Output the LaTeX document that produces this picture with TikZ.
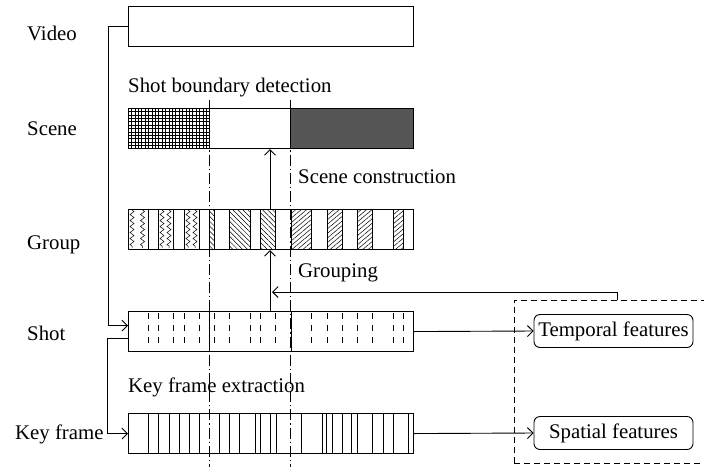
\documentclass[tikz,border=0pt]{standalone}
\usepackage{fontspec}
\setmainfont{Liberation Serif}
\usetikzlibrary{arrows.meta,patterns.meta,decorations.pathmorphing,calc}
\definecolor{darkfill}{HTML}{565656}
\begin{document}
\begin{tikzpicture}[x=1pt,y=-1pt,
  lab/.style={anchor=base west,inner sep=0pt,font=\fontsize{20.8}{24}\selectfont},
  bar/.style={draw,line width=1.1pt,minimum width=285pt,minimum height=40pt,inner sep=0pt,anchor=north west},
  feat/.style={draw,line width=0.9pt,rounded corners=6pt,minimum width=159pt,minimum height=33pt,inner sep=0pt,font=\fontsize{20.8}{24}\selectfont},
  conn/.style={line width=0.9pt},
  arr/.style={conn,-{Straight Barb[length=5.5pt,width=11pt,line width=0.9pt]}},
  dashdot/.style={line width=0.8pt,dash pattern=on 11pt off 3pt on 1.2pt off 3pt},
  fine/.style={line width=0.5pt},
  sep/.style={line width=0.9pt},
  hatchA/.style={pattern={Lines[angle=-45,distance=3.5pt,line width=0.5pt]}},
  hatchB/.style={pattern={Lines[angle=40,distance=3.5pt,line width=0.5pt]}}
]
\useasboundingbox (0,0) rectangle (704,467);

% scene fills
\begin{scope}
  \clip (128,108) rectangle (209,148);
  \foreach \i in {0,...,24} \draw[fine] (128+\i*3.4,108) -- ++(0,40);
  \foreach \i in {0,...,12} \draw[fine] (128,108+\i*3.4) -- ++(81,0);
\end{scope}
\fill[darkfill] (290,108) rectangle (413,148);

% group fills
\foreach \a/\b in {209/214,229/250,260/275}
  \fill[hatchA] (\a,209) rectangle (\b,249);
\foreach \a/\b in {291/311,327/342,357/372,393/403}
  \fill[hatchB] (\a,209) rectangle (\b,249);
\foreach \x in {132,142.5,162,169,188,195}
  \draw[fine,decorate,decoration={zigzag,segment length=6pt,amplitude=2pt}] (\x,210) -- (\x,248);
\foreach \x in {148,158,173,184,199,209,214,229,250,260,275,291,311,327,342,357,372,393,403}
  \draw[sep] (\x,209) -- (\x,249);

% shot marks
\foreach \x in {148,158,173,184,199,214,229,250,260,275,311,327,342,357,372,393,403}
  \draw[line width=1pt,dash pattern=on 6pt off 6pt] (\x,313) -- (\x,344);
\foreach \x in {209,291}
  \draw[sep] (\x,311) -- (\x,352);

% key frame marks
\foreach \x in {148,158,169,179,189,199,219,229,239,255,260,270,276,301,322,326,332,342,351,357,372,383,393,408}
  \draw[sep] (\x,413) -- (\x,453);

% dash-dot boundaries
\draw[dashdot] (209,100) -- (209,467);
\draw[dashdot] (290,100) -- (290,467);

% bars
\node[bar] (video) at (128,6) {};
\node[bar] (scene) at (128,108) {};
\draw[sep] (209,108) -- (209,148);
\draw[sep] (290,108) -- (290,148);
\node[bar] (group) at (128,209) {};
\node[bar] (shot) at (128,311) {};
\node[bar] (keyframe) at (128,413) {};

% labels
\node[lab] (tvideo) at (27,40) {Video};
\node[lab] (tscene) at (27,135) {Scene};
\node[lab] (tgroup) at (27,249) {Group};
\node[lab] (tshot) at (27,340) {Shot};
\node[lab] (tkey) at (15,439) {Key frame};
\node[lab] (tsbd) at (128,92) {Shot boundary detection};
\node[lab] (tsc) at (298,183) {Scene construction};
\node[lab] (tgr) at (298,277) {Grouping};
\node[lab] (tkfe) at (128,392) {Key frame extraction};

% feature box
\node[draw,line width=0.9pt,dash pattern=on 6pt off 4pt,minimum width=200pt,minimum height=163pt,inner sep=0pt,anchor=north west] (fbox) at (514,300) {};
\node[feat] (temporal) at (613.5,331) {Temporal features};
\node[feat] (spatial) at (613.5,433) {Spatial features};

% connectors
\draw[arr] (video.west) -- ++(-20,0) |- ($(shot.west)+(0,-6)$);
\draw[arr] ($(shot.west)+(0,7)$) -- ++(-21,0) |- (keyframe.west);
\draw[arr] (shot.east) -- (temporal.west);
\draw[arr] (keyframe.east) -- (spatial.west);
\coordinate (ax) at (270,0);
\draw[arr] (group.north -| ax) -- (scene.south -| ax);
\draw[arr] (shot.north -| ax) -- (group.south -| ax);
\coordinate (gx) at (617,0);
\coordinate (gtip) at (272,292);
\draw[arr] (fbox.north -| gx) -- ++(0,-8) -- (gtip);
\end{tikzpicture}
\end{document}
